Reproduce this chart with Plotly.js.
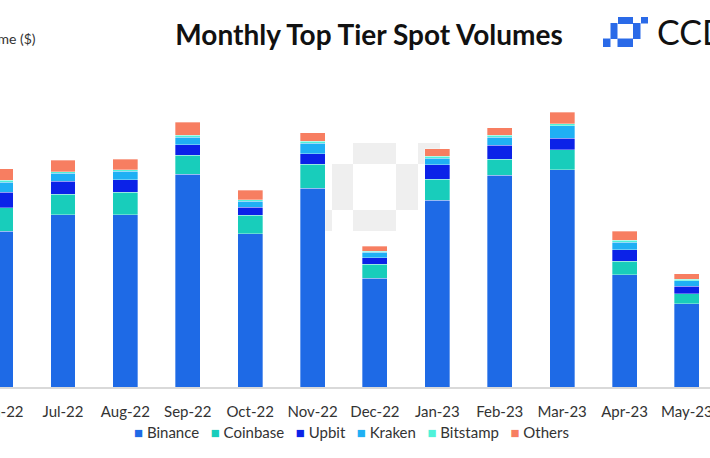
<!DOCTYPE html>
<html>
<head>
<meta charset="utf-8">
<script src="https://cdn.plot.ly/plotly-3.0.1.min.js"></script>
<style>html,body{margin:0;padding:0;background:#fff;}#chart{width:710px;height:458px;}</style>
</head>
<body>
<div id="chart"></div>
<script>
// Categories (months)
const months = ["Jun-22","Jul-22","Aug-22","Sep-22","Oct-22","Nov-22","Dec-22","Jan-23","Feb-23","Mar-23","Apr-23","May-23"];
// Estimated monthly spot volumes ($bn) per exchange
const binance  = [624, 690, 690, 851, 614, 796, 435, 747, 847, 870, 450, 334];
const coinbase = [ 94,  81,  90,  76,  73,  95,  56,  85,  64,  80,  54,  40];
const upbit    = [ 62,  52,  50,  43,  33,  43,  27,  58,  56,  46,  46,  30];
const kraken   = [ 39,  32,  33,  30,  23,  42,  21,  26,  32,  50,  29,  22];
const bitstamp = [  8,   6,   6,   7,   7,   7,   4,   7,   8,   8,   8,   5];
const others   = [ 47,  47,  43,  53,  37,  35,  20,  31,  31,  46,  37,  23];

const seriesNames  = ["Binance","Coinbase","Upbit","Kraken","Bitstamp","Others"];
const seriesValues = [binance, coinbase, upbit, kraken, bitstamp, others];
const seriesColors = ["#1e6ae6","#18cdbb","#0b22e8","#1fb0f4","#4ff2d9","#f77e61"];

const W = 710, H = 458, ML = 0, MR = 0, MT = 60, MB = 71;
const plotH = H - MT - MB;
const px = x => (x - ML) / (W - ML - MR);
const py = y => (H - MB - y) / plotH;

const traces = seriesNames.map((name, i) => ({
  type: "bar",
  name: name,
  x: months,
  y: seriesValues[i],
  marker: {color: seriesColors[i], line: {color: "rgba(255,255,255,0.55)", width: 0.6}},
  showlegend: false,
  hoverinfo: "x+y+name"
}));

// Manual compact legend built from series names/colours
const legendText = seriesNames.map((n, i) =>
  `<span style="color:${seriesColors[i]}">■</span> ${n}`).join("   ");

const shapes = [];
function rectPx(x0, y0, x1, y1, color) {
  shapes.push({type: "rect", xref: "paper", yref: "paper",
    x0: px(x0), x1: px(x1), y0: py(y1), y1: py(y0),
    fillcolor: color, line: {width: 0}, layer: "below"});
}
// faint watermark logo
const wm = "#efefef";
rectPx(353, 143, 396, 164, wm);
rectPx(418, 143, 440, 164, wm);
rectPx(332, 164, 353, 210, wm);
rectPx(396, 164, 418, 210, wm);
rectPx(353, 210, 396, 231, wm);
rectPx(310, 210, 332, 231, wm);
// brand logo (top right)
const lb = "#2a6ae8";
rectPx(641, 17, 648, 23.5, lb);
rectPx(618, 17, 633, 24, lb);
rectPx(610.5, 23, 617.5, 39, lb);
rectPx(633, 23, 640.5, 39, lb);
rectPx(617.5, 38.5, 633, 47, lb);
rectPx(603, 38.5, 610.5, 47, lb);

const layout = {
  width: W, height: H,
  margin: {l: ML, r: MR, t: MT, b: MB},
  paper_bgcolor: "#ffffff",
  plot_bgcolor: "#ffffff",
  barmode: "stack",
  bargap: 0.6,
  font: {family: "Lato, 'Open Sans', sans-serif", color: "#333333"},
  title: {
    text: "Monthly Top Tier Spot Volumes",
    x: 369 / W, xanchor: "center",
    y: 1 - 35 / H, yanchor: "middle",
    font: {family: "Lato, 'Open Sans', sans-serif", size: 28, weight: 700, color: "#111111"}
  },
  xaxis: {
    type: "category",
    range: [-0.01, 11.37],
    showgrid: false, zeroline: false,
    showline: true, linecolor: "#d9d9d9", linewidth: 1.5,
    ticks: "", ticklabelstandoff: 10,
    tickfont: {size: 15, color: "#333333"},
    automargin: false, fixedrange: true
  },
  yaxis: {
    range: [0, plotH * 4],
    showgrid: false, zeroline: false, showline: false,
    showticklabels: false, ticks: "",
    automargin: false, fixedrange: true
  },
  shapes: shapes,
  annotations: [
    {text: "Volume ($)", xref: "paper", yref: "paper", x: px(-32), y: py(38),
     xanchor: "left", yanchor: "middle", showarrow: false,
     font: {size: 14, color: "#333333"}},
    {text: "CCData", xref: "paper", yref: "paper", x: px(655), y: py(32),
     xanchor: "left", yanchor: "middle", showarrow: false,
     font: {family: "Lato, sans-serif", size: 34, color: "#111111"}},
    {text: legendText, xref: "paper", yref: "paper", x: px(351), y: py(432),
     xanchor: "center", yanchor: "middle", showarrow: false,
     font: {size: 15, color: "#333333"}}
  ]
};

Plotly.newPlot("chart", traces, layout, {displayModeBar: false, staticPlot: true});
</script>
</body>
</html>
